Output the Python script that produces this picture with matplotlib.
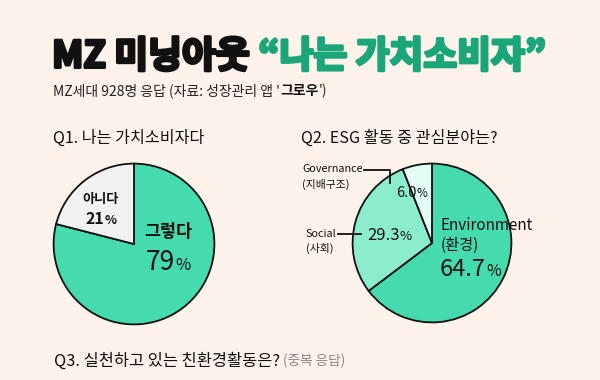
import matplotlib
matplotlib.use("Agg")
import matplotlib.pyplot as plt
import matplotlib.patheffects as pe

plt.rcParams['font.family'] = ['Noto Sans CJK KR', 'DejaVu Sans']

# ---- data ----
q1_labels = ["그렇다", "아니다"]
q1_values = [79, 21]
q2_labels = ["Environment", "Social", "Governance"]
q2_labels_ko = ["(환경)", "(사회)", "(지배구조)"]
q2_values = [64.7, 29.3, 6.0]

title_black = "MZ 미닝아웃 "
title_green = "“나는 가치소비자”"
subtitle_a = "MZ세대 928명 응답 (자료: 성장관리 앱 '"
subtitle_b = "그로우"
subtitle_c = "')"
q1_title = "Q1. 나는 가치소비자다"
q2_title = "Q2. ESG 활동 중 관심분야는?"
q3_title = "Q3. 실천하고 있는 친환경활동은?"
q3_note = "(중복 응답)"

BG = "#FDF3EA"
GREEN_T = "#1BA67A"
C_MAIN = "#46DBAE"
C_GREY = "#F2F2F2"
C_SOC = "#8CEDCE"
C_GOV = "#E4FDF6"
INK = "#111111"
W, H = 600, 380

fig = plt.figure(figsize=(6, 3.8), dpi=100, facecolor=BG)


def pie_axes(cx, cy, r):
    return fig.add_axes([(cx - r) / W, (H - cy - r) / H, 2 * r / W, 2 * r / H])


wp = dict(edgecolor=INK, linewidth=1.3)
ax1 = pie_axes(134, 244, 82)
ax1.pie(q1_values, colors=[C_MAIN, C_GREY], startangle=90, counterclock=False,
        wedgeprops=wp)
ax1.set_xlim(-1.02, 1.02); ax1.set_ylim(-1.02, 1.02)

ax2 = pie_axes(432, 243, 81)
ax2.pie(q2_values, colors=[C_MAIN, C_SOC, C_GOV], startangle=90, counterclock=False,
        wedgeprops=wp)
ax2.set_xlim(-1.02, 1.02); ax2.set_ylim(-1.02, 1.02)

# overlay in pixel coordinates
ov = fig.add_axes([0, 0, 1, 1])
ov.set_xlim(0, W); ov.set_ylim(H, 0)
ov.axis("off")
ov.patch.set_alpha(0)

fig.canvas.draw()
renderer = fig.canvas.get_renderer()


def seq(x, y, parts, va="center"):
    """Draw text parts one after another starting at pixel x."""
    for txt, kw in parts:
        t = ov.text(x, y, txt, ha="left", va=va, **kw)
        bb = t.get_window_extent(renderer)
        x += bb.width * W / fig.bbox.width
    return x


# title (stroke thickens the glyphs like the rounded display font)
seq(52, 57, [(title_black, dict(fontsize=26.5, fontweight="black", color=INK,
                                path_effects=[pe.withStroke(linewidth=2.2, foreground=INK)])),
             (title_green, dict(fontsize=26.5, fontweight="black", color=GREEN_T,
                                path_effects=[pe.withStroke(linewidth=2.2, foreground=GREEN_T)]))])
seq(53, 91, [(subtitle_a, dict(fontsize=10, color="#222222")),
             (subtitle_b, dict(fontsize=10, fontweight="bold", color=INK)),
             (subtitle_c, dict(fontsize=10, color="#222222"))])

ov.text(53, 138, q1_title, fontsize=11.6, va="center", ha="left", color=INK)
ov.text(301, 138, q2_title, fontsize=11.6, va="center", ha="left", color=INK)
seq(54, 361, [(q3_title, dict(fontsize=11.8, color=INK)),
              (" " + q3_note, dict(fontsize=9.8, color="#888888"))])

# Q1 labels
ov.text(101, 199, q1_labels[1], fontsize=9.5, fontweight="bold", ha="center", va="center", color=INK)
seq(86, 224, [(f"{q1_values[1]}", dict(fontsize=11.5, fontweight="bold", color=INK)),
              ("%", dict(fontsize=9, fontweight="bold", color=INK))], va="baseline")
ov.text(168, 232, q1_labels[0], fontsize=12.5, fontweight="bold", ha="center", va="center", color=INK)
seq(146, 270, [(f"{q1_values[0]}", dict(fontsize=19, fontweight="medium", color=INK)),
               ("%", dict(fontsize=12, fontweight="medium", color=INK))], va="baseline")

# Q2 labels
seq(396, 197, [(f"{q2_values[2]:.1f}", dict(fontsize=10.5, fontweight="medium", color=INK)),
               ("%", dict(fontsize=8.5, fontweight="medium", color=INK))], va="baseline")
seq(367, 240, [(f"{q2_values[1]:.1f}", dict(fontsize=12, fontweight="medium", color=INK)),
               ("%", dict(fontsize=9.5, fontweight="medium", color=INK))], va="baseline")
ov.text(441, 226, q2_labels[0], fontsize=11, fontweight="medium", ha="left", va="center", color=INK)
ov.text(441, 245, q2_labels_ko[0], fontsize=11, fontweight="medium", ha="left", va="center", color=INK)
seq(440, 276, [(f"{q2_values[0]:.1f}", dict(fontsize=17, fontweight="medium", color=INK)),
               ("%", dict(fontsize=11.5, fontweight="medium", color=INK))], va="baseline")

ov.text(302, 169, q2_labels[2], fontsize=7.8, fontweight="medium", ha="left", va="center", color=INK)
ov.text(302, 184, q2_labels_ko[2], fontsize=7.8, fontweight="medium", ha="left", va="center", color=INK)
ov.text(306, 234, q2_labels[1], fontsize=7.8, fontweight="medium", ha="left", va="center", color=INK)
ov.text(306, 248, q2_labels_ko[1], fontsize=7.8, fontweight="medium", ha="left", va="center", color=INK)

# leader lines
ov.plot([364, 390, 390], [169.5, 169.5, 183], color=INK, lw=1.3)
ov.plot([338, 361], [234, 234], color=INK, lw=1.3)

fig.savefig("out.png", dpi=100, facecolor=BG)
